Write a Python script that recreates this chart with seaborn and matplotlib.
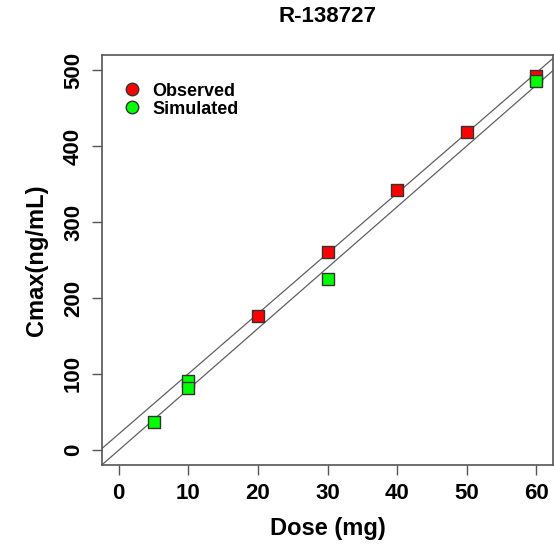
import matplotlib
matplotlib.use("Agg")
import matplotlib.pyplot as plt
import seaborn as sns
import pandas as pd
import numpy as np
from matplotlib.lines import Line2D

sns.set_style("white")
plt.rcParams['font.family'] = ['Liberation Sans', 'DejaVu Sans']
plt.rcParams['font.weight'] = 'bold'
plt.rcParams['text.color'] = 'black'
plt.rcParams['axes.labelcolor'] = 'black'
plt.rcParams['xtick.labelcolor'] = 'black'
plt.rcParams['ytick.labelcolor'] = 'black'

title = "R-138727"
obs_dose = [20, 30, 40, 50, 60]
obs_cmax = [176, 260, 342, 419, 493]
sim_dose = [5, 10, 10, 30, 60]
sim_cmax = [37, 90, 81, 225, 486]
x_ticks = [0, 10, 20, 30, 40, 50, 60]
y_ticks = [0, 100, 200, 300, 400, 500]

obs = pd.DataFrame({"Dose": obs_dose, "Cmax": obs_cmax})
sim = pd.DataFrame({"Dose": sim_dose, "Cmax": sim_cmax})

fig = plt.figure(figsize=(5.54, 5.49), dpi=100)
ax = fig.add_axes([102/554, 1 - 465/549, (553 - 102)/554, (465 - 55)/549])
ax.set_xlim(-2.4, 62.4)
ax.set_ylim(-20, 520)

# fitted lines extended across the full axis range
line_kw = dict(color="#606060", lw=0.9)
sns.regplot(data=obs, x="Dose", y="Cmax", ax=ax, scatter=False, ci=None,
            truncate=False, line_kws=line_kw)
sns.regplot(data=sim, x="Dose", y="Cmax", ax=ax, scatter=False, ci=None,
            truncate=False, line_kws=line_kw)

mk = dict(marker="s", s=72, edgecolor="#333333", linewidth=1.0, zorder=3)
sns.scatterplot(data=obs, x="Dose", y="Cmax", ax=ax, color="#FF0000", **mk)
sns.scatterplot(data=sim, x="Dose", y="Cmax", ax=ax, color="#00FF00", **mk)

ax.set_xlim(-2.4, 62.4)
ax.set_ylim(-20, 520)
ax.set_xticks(x_ticks)
ax.set_yticks(y_ticks)
ax.tick_params(axis="both", direction="out", length=7, width=1, color="#555555",
               labelsize=16, pad=6, left=True, bottom=True)
for lab in ax.get_yticklabels():
    lab.set_rotation(90)
    lab.set_va("center")
for lab in ax.get_xticklabels() + ax.get_yticklabels():
    lab.set_fontweight("bold")
for sp in ax.spines.values():
    sp.set_color("#555555")
    sp.set_linewidth(1.2)

ax.set_xlabel("Dose (mg)", fontsize=17, fontweight="bold", labelpad=9)
ax.set_ylabel("Cmax(ng/mL)", fontsize=17, fontweight="bold", labelpad=11)
fig.text((102 + 553) / 2 / 554, 1 - 17/549, title, ha="center", va="center",
         fontsize=16, fontweight="bold")

handles = [
    Line2D([], [], marker="o", ls="", markerfacecolor="#FF0000",
           markeredgecolor="#333333", markersize=9, label="Observed"),
    Line2D([], [], marker="o", ls="", markerfacecolor="#00FF00",
           markeredgecolor="#333333", markersize=9, label="Simulated"),
]
ax.legend(handles=handles, loc="upper left", bbox_to_anchor=(0.01, 0.95),
          frameon=False, prop={"weight": "bold", "size": 13},
          handletextpad=0.15, labelspacing=0.05, borderaxespad=0)

fig.savefig("out.png", dpi=100)
